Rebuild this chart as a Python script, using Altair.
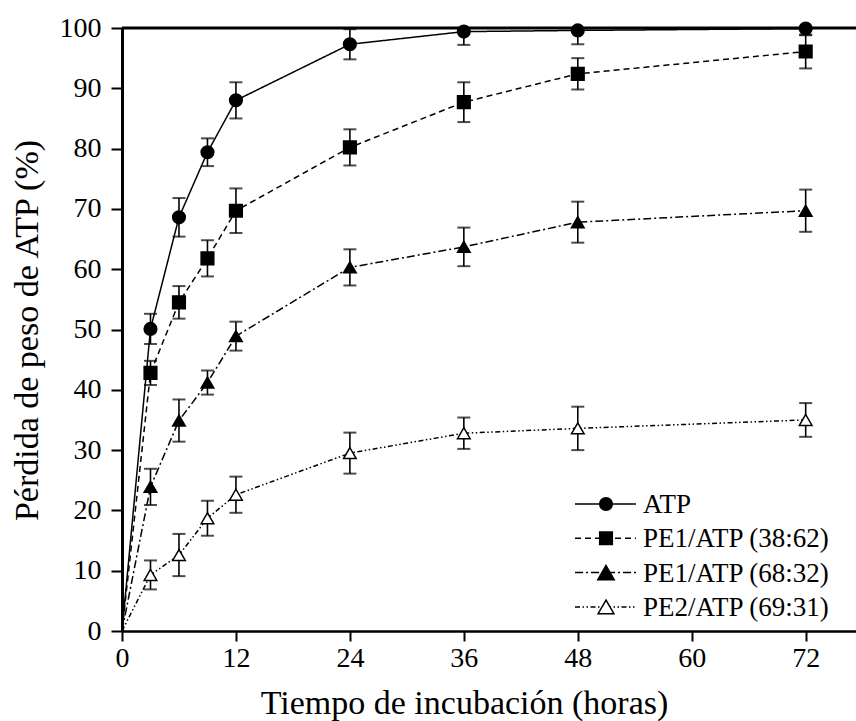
import altair as alt
import pandas as pd

# Incubation times (hours)
horas = [0, 3, 6, 9, 12, 24, 36, 48, 72]

# Series names
series = ["ATP", "PE1/ATP (38:62)", "PE1/ATP (68:32)", "PE2/ATP (69:31)"]

# Weight loss (%) per series
atp = [0, 50.1, 68.6, 79.4, 88.0, 97.3, 99.4, 99.6, 99.9]
pe1_38 = [0, 42.8, 54.5, 61.8, 69.7, 80.2, 87.7, 92.4, 96.1]
pe1_68 = [0, 23.9, 34.9, 41.2, 48.9, 60.3, 63.7, 67.8, 69.7]
pe2_69 = [0, 9.3, 12.6, 18.7, 22.6, 29.5, 32.8, 33.6, 35.0]

# Error (±) per series
atp_err = [0, 2.5, 3.2, 2.3, 3.0, 2.5, 2.2, 2.3, 1.1]
pe1_38_err = [0, 2.0, 2.7, 3.0, 3.7, 3.0, 3.3, 2.6, 2.8]
pe1_68_err = [0, 3.0, 3.5, 2.0, 2.4, 3.0, 3.2, 3.4, 3.5]
pe2_69_err = [0, 2.4, 3.5, 2.9, 3.0, 3.4, 2.6, 3.6, 2.8]

# Axis ticks
x_ticks = [0, 12, 24, 36, 48, 60, 72]
y_ticks = [0, 10, 20, 30, 40, 50, 60, 70, 80, 90, 100]
tope = [100]

valores = [atp, pe1_38, pe1_68, pe2_69]
errores = [atp_err, pe1_38_err, pe1_68_err, pe2_69_err]

rows = []
for name, vals, errs in zip(series, valores, errores):
    for h, v, e in zip(horas, vals, errs):
        rows.append({"serie": name, "horas": h, "perdida": v, "err": e})
df = pd.DataFrame(rows)

FONT = "Liberation Serif"
W, H = 734, 603

# Styles per series
dashes = [[1, 0], [6, 4], [8, 3, 2, 3], [5, 2.5, 1.5, 2.5, 1.5, 2.5]]
shapes = ["circle", "square", "triangle-up", "triangle-up"]
fills = ["black", "black", "black", "white"]
sizes = [160, 160, 270, 250]

x_scale = alt.Scale(domain=[0, 77.3], nice=False, zero=False)
y_scale = alt.Scale(domain=[0, 100], nice=False)

x_axis = alt.Axis(
    values=x_ticks, labelFontSize=28, tickSize=10, tickWidth=2, domainWidth=2.5,
    labelPadding=3, titleFontSize=34, titleX=342, titleY=82,
    titleBaseline="alphabetic", labelFlush=False,
)
y_axis = alt.Axis(
    values=y_ticks, labelFontSize=28, tickSize=11, tickWidth=2, domainWidth=3,
    labelPadding=10, titleFontSize=34, titleX=-85, titleY=302, titleAngle=-90,
    titleAlign="center", titleBaseline="alphabetic", labelFlush=False,
)
X_TITLE = "Tiempo de incubación (horas)"
Y_TITLE = "Pérdida de peso de ATP (%)"


def xenc(field="horas:Q"):
    return alt.X(field, scale=x_scale, axis=x_axis, title=X_TITLE)


def yenc(field):
    return alt.Y(field, scale=y_scale, axis=y_axis, title=Y_TITLE)


dash_enc = alt.StrokeDash("serie:N", scale=alt.Scale(domain=series, range=dashes), legend=None)

base = alt.Chart(df)

lines = base.mark_line(color="black", strokeWidth=1.5).encode(
    x=xenc(), y=yenc("perdida:Q"), strokeDash=dash_enc
)

err_base = base.transform_filter("datum.horas > 0").transform_calculate(
    lo="datum.perdida - datum.err", hi="datum.perdida + datum.err"
)
err_rule = err_base.mark_rule(color="black", strokeWidth=1.6, clip=True).encode(
    x=xenc(), y=yenc("lo:Q"), y2="hi:Q"
)
cap_lo = err_base.mark_tick(orient="horizontal", size=13, thickness=2, color="black", clip=True).encode(
    x=xenc(), y=yenc("lo:Q")
)
cap_hi = err_base.mark_tick(orient="horizontal", size=13, thickness=2, color="black", clip=True).encode(
    x=xenc(), y=yenc("hi:Q")
)

points = base.transform_filter("datum.horas > 0").mark_point(
    filled=True, stroke="black", strokeWidth=1.5, opacity=1
).encode(
    x=xenc(),
    y=yenc("perdida:Q"),
    shape=alt.Shape("serie:N", scale=alt.Scale(domain=series, range=shapes), legend=None),
    fill=alt.Fill("serie:N", scale=alt.Scale(domain=series, range=fills), legend=None),
    size=alt.Size("serie:N", scale=alt.Scale(domain=series, range=sizes), legend=None),
)

top_line = alt.Chart(pd.DataFrame({"tope": tope})).mark_rule(color="black", strokeWidth=3).encode(
    y=yenc("tope:Q")
)

# Hand-drawn legend in the lower right of the plot area
legend_layers = []
leg_x0, leg_x1, leg_xm, leg_xt = 453, 514, 484, 521
leg_y0, leg_dy = 476, 34.3
for i, name in enumerate(series):
    ly = leg_y0 + i * leg_dy
    seg = alt.Chart(pd.DataFrame({"k": [0]})).mark_rule(
        color="black", strokeWidth=1.5, strokeDash=dashes[i]
    ).encode(x=alt.value(leg_x0), x2=alt.value(leg_x1), y=alt.value(ly))
    mk = alt.Chart(pd.DataFrame({"k": [0]})).mark_point(
        shape=shapes[i], filled=True, fill=fills[i], stroke="black",
        strokeWidth=1.5, size=sizes[i], opacity=1
    ).encode(x=alt.value(leg_xm), y=alt.value(ly))
    txt = alt.Chart(pd.DataFrame({"k": [0]})).mark_text(
        text=name, align="left", baseline="middle", font=FONT, fontSize=27, color="black"
    ).encode(x=alt.value(leg_xt), y=alt.value(ly + 1))
    legend_layers += [seg, mk, txt]

chart = alt.layer(
    lines, err_rule, cap_lo, cap_hi, points, top_line, *legend_layers
).properties(
    width=W,
    height=H,
    padding={"left": 122, "top": 28, "right": 0, "bottom": 90},
    autosize=alt.AutoSizeParams(type="none"),
    background="white",
).configure_axis(
    grid=False,
    labelFont=FONT,
    titleFont=FONT,
    titleFontWeight="normal",
    labelColor="black",
    titleColor="black",
    domainColor="black",
    tickColor="black",
).configure_view(stroke=None)

chart.save("out.html", embed_options={"renderer": "svg", "actions": False})
